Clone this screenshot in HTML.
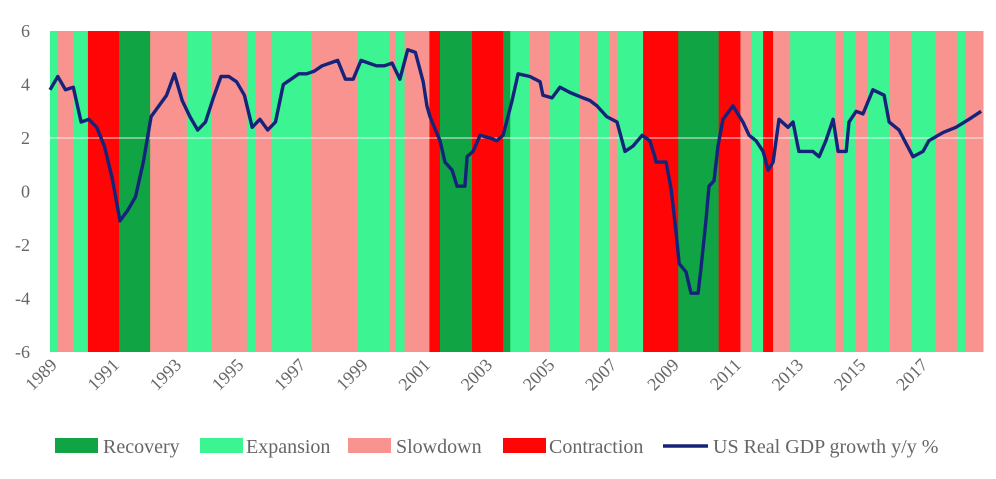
<!DOCTYPE html>
<html><head><meta charset="utf-8"><style>
body{margin:0;background:#fff;width:996px;height:474px;overflow:hidden;font-family:"Liberation Serif",serif;}
svg text{font-family:"Liberation Serif",serif;fill:#666;}
</style></head><body>
<svg id="chart" width="996" height="474" viewBox="0 0 996 474" xmlns="http://www.w3.org/2000/svg">
<g id="bands"></g>
<g id="grid"></g>
<g id="line"></g>
<g id="yaxis"></g>
<g id="xaxis"></g>
<g id="legend"></g>
</svg>
<script>
const bandStarts=[1989.0,1989.26,1989.74,1990.22,1991.22,1992.22,1993.4,1994.2,1995.33,1995.6,1996.14,1997.42,1998.9,1999.93,2000.1,2000.4,2001.2,2001.54,2002.57,2003.57,2003.8,2004.43,2005.08,2006.04,2006.6,2007.0,2007.23,2008.07,2009.2,2010.5,2011.2,2011.57,2011.93,2012.25,2012.8,2014.24,2014.5,2014.9,2015.3,2016.0,2016.7,2017.46,2018.16,2018.42];
const bandPhases=["E","S","E","C","R","S","E","S","E","S","E","S","E","S","E","S","C","R","C","R","E","S","E","S","E","S","E","C","R","C","S","E","C","S","E","S","E","S","E","S","E","S","E","S"];
const bandEnd=2019.0;
const gdpTimes=[1989,1989.25,1989.5,1989.75,1990,1990.25,1990.5,1990.75,1991,1991.25,1991.5,1991.75,1992,1992.25,1992.5,1992.75,1993,1993.25,1993.5,1993.75,1994,1994.25,1994.5,1994.75,1995,1995.25,1995.5,1995.75,1996,1996.25,1996.5,1996.75,1997,1997.25,1997.5,1997.75,1998,1998.25,1998.5,1998.75,1999,1999.25,1999.5,1999.75,2000,2000.25,2000.5,2000.75,2001.0,2001.12,2001.22,2001.54,2001.7,2001.93,2002.09,2002.34,2002.41,2002.6,2002.83,2003.15,2003.37,2003.57,2003.86,2004.05,2004.43,2004.76,2004.85,2005.14,2005.4,2005.72,2006.14,2006.36,2006.59,2006.9,2007.23,2007.49,2007.75,2008.04,2008.29,2008.45,2008.49,2008.81,2008.97,2009.13,2009.23,2009.45,2009.61,2009.84,2009.93,2010.09,2010.19,2010.35,2010.48,2010.64,2010.96,2011.28,2011.48,2011.7,2011.93,2012.09,2012.25,2012.44,2012.73,2012.89,2013.08,2013.53,2013.73,2013.95,2014.18,2014.34,2014.6,2014.69,2014.92,2015.14,2015.46,2015.82,2015.98,2016.3,2016.75,2017.07,2017.26,2017.71,2018.13,2018.55,2018.94];
const gdpValues=[3.8,4.3,3.8,3.9,2.6,2.7,2.4,1.7,0.5,-1.1,-0.7,-0.2,1.1,2.8,3.2,3.6,4.4,3.4,2.8,2.3,2.6,3.5,4.3,4.3,4.1,3.6,2.4,2.7,2.3,2.6,4.0,4.2,4.4,4.4,4.5,4.7,4.8,4.9,4.2,4.2,4.9,4.8,4.7,4.7,4.8,4.2,5.3,5.2,4.1,3.2,2.8,1.9,1.1,0.8,0.2,0.2,1.3,1.5,2.1,2.0,1.9,2.1,3.4,4.4,4.3,4.1,3.6,3.5,3.9,3.7,3.5,3.4,3.2,2.8,2.6,1.5,1.7,2.1,1.9,1.3,1.1,1.1,0.1,-1.5,-2.7,-3.0,-3.8,-3.8,-2.9,-1.1,0.2,0.4,1.7,2.7,3.2,2.6,2.1,1.9,1.5,0.8,1.1,2.7,2.4,2.6,1.5,1.5,1.3,1.9,2.7,1.5,1.5,2.6,3.0,2.9,3.8,3.6,2.6,2.3,1.3,1.5,1.9,2.2,2.4,2.7,3.0];
const yTicks=[6,4,2,0,-2,-4,-6];
const xTickYears=[1989,1991,1993,1995,1997,1999,2001,2003,2005,2007,2009,2011,2013,2015,2017];
const legendLabels=["Recovery","Expansion","Slowdown","Contraction","US Real GDP growth y/y %"];

const NS="http://www.w3.org/2000/svg";
const X0=50,X1=983,Y0=31,Y1=352;
const colors={R:"#10a444",E:"#3cf592",S:"#f99390",C:"#ff0505"};
function xs(t){return X0+(t-1989)/(bandEnd-1989)*(X1-X0);}
function ys(v){return Y0+(6-v)/12*(Y1-Y0);}
function mk(tag,attrs,parent){const e=document.createElementNS(NS,tag);for(const k in attrs)e.setAttribute(k,attrs[k]);parent.appendChild(e);return e;}
const bands=document.getElementById('bands');
bandStarts.forEach((s,i)=>{
  const e=i+1<bandStarts.length?bandStarts[i+1]:bandEnd;
  const r=mk('rect',{x:xs(s),y:Y0,width:xs(e)-xs(s)+0.5,height:Y1-Y0,fill:colors[bandPhases[i]]},bands);
  
  
});
const grid=document.getElementById('grid');
const gl=mk('line',{x1:X0,x2:X1,y1:ys(2),y2:ys(2),stroke:"#fff","stroke-width":1,opacity:0.85},grid);


const line=document.getElementById('line');
const pts=gdpTimes.map((t,i)=>xs(t).toFixed(1)+","+ys(gdpValues[i]).toFixed(1)).join(" ");
const pl=mk('polyline',{points:pts,fill:"none",stroke:"#16237a","stroke-width":3.4,"stroke-linejoin":"round"},line);


const ya=document.getElementById('yaxis');
yTicks.forEach(v=>{
  const t=mk('text',{x:30,y:ys(v)+6,"text-anchor":"end","font-size":18},ya);
  t.textContent=v;
  
  
});
const xa=document.getElementById('xaxis');
xTickYears.forEach(yr=>{
  const x=xs(yr)+8,y=Y1+14;
  const t=mk('text',{x:x,y:y,"text-anchor":"end","font-size":18,transform:`rotate(-45 ${x} ${y})`},xa);
  t.textContent=yr;
  
  
});
const lg=document.getElementById('legend');
const sw=[[55,103,"R"],[200,246,"E"],[348,396,"S"],[503,549,"C"],[663,713,"L"]];
sw.forEach((s,i)=>{
  let m;
  if(s[2]==="L"){m=mk('line',{x1:s[0],x2:s[0]+45,y1:446,y2:446,stroke:"#16237a","stroke-width":3.5},lg);}
  else{m=mk('rect',{x:s[0],y:438,width:43,height:15,fill:colors[s[2]]},lg);}
  
  
  const t=mk('text',{x:s[1],y:453,"font-size":20},lg);
  t.textContent=legendLabels[i];
  
  
});
</script>
</body></html>
